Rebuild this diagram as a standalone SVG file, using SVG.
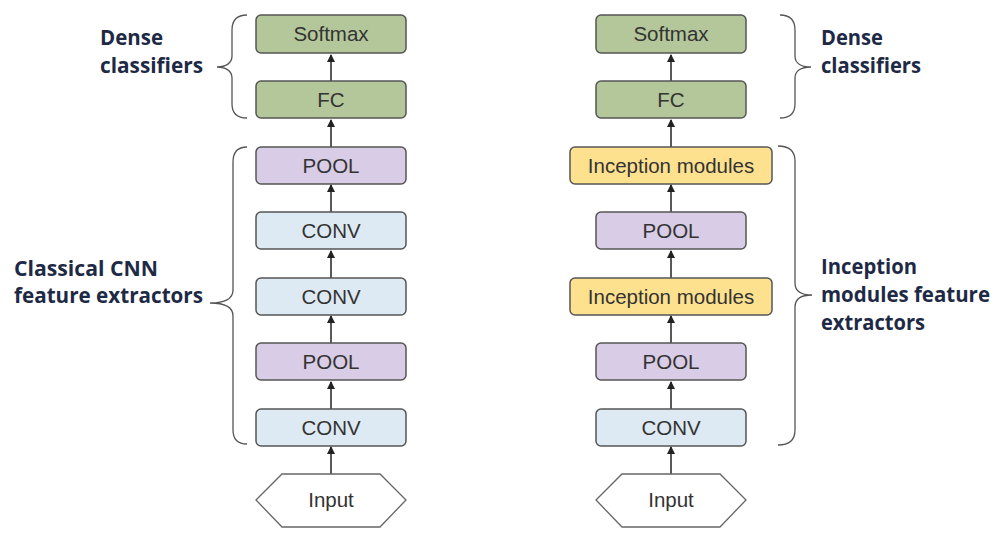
<svg xmlns="http://www.w3.org/2000/svg" width="1003" height="538" viewBox="0 0 1003 538">
<style>
.box{stroke:#555;stroke-width:1.5}
.g{fill:#b3c79a}.p{fill:#d8cce6}.b{fill:#deeaf3}.y{fill:#fde18f}
.hex{fill:#fff;stroke:#666;stroke-width:1.3}
.t{font-family:"Liberation Sans",Arial,sans-serif;font-size:20.5px;fill:#333;text-anchor:middle}
.lbl{font-family:"Open Sans","Noto Sans",sans-serif;font-weight:bold;font-size:21px;fill:#1e2a45}
.br{fill:none;stroke:#555;stroke-width:1.3}
.c{stroke:#222;stroke-width:1.5;fill:none}
</style>
<defs>
<marker id="ah" markerWidth="8" markerHeight="10" refX="7" refY="4" orient="auto" markerUnits="userSpaceOnUse" viewBox="0 0 8 8">
<path d="M0,0 L8,4 L0,8 z" fill="#222"/>
</marker>
</defs>
<rect width="1003" height="538" fill="#fff"/>
<g id="connectors">
<line class="c" x1="331" y1="81" x2="331" y2="55" marker-end="url(#ah)"/>
<line class="c" x1="331" y1="147" x2="331" y2="120" marker-end="url(#ah)"/>
<line class="c" x1="331" y1="212" x2="331" y2="185" marker-end="url(#ah)"/>
<line class="c" x1="331" y1="278" x2="331" y2="251" marker-end="url(#ah)"/>
<line class="c" x1="331" y1="343" x2="331" y2="316" marker-end="url(#ah)"/>
<line class="c" x1="331" y1="409" x2="331" y2="382" marker-end="url(#ah)"/>
<line class="c" x1="331" y1="474" x2="331" y2="447" marker-end="url(#ah)"/>
<line class="c" x1="671" y1="81" x2="671" y2="55" marker-end="url(#ah)"/>
<line class="c" x1="671" y1="147" x2="671" y2="120" marker-end="url(#ah)"/>
<line class="c" x1="671" y1="212" x2="671" y2="185" marker-end="url(#ah)"/>
<line class="c" x1="671" y1="278" x2="671" y2="251" marker-end="url(#ah)"/>
<line class="c" x1="671" y1="343" x2="671" y2="316" marker-end="url(#ah)"/>
<line class="c" x1="671" y1="409" x2="671" y2="382" marker-end="url(#ah)"/>
<line class="c" x1="671" y1="474" x2="671" y2="447" marker-end="url(#ah)"/>
</g>
<g id="left-softmax"><rect class="box g" x="256" y="15" width="150" height="38" rx="5"/><text class="t" x="331" y="41">Softmax</text></g>
<g id="left-fc"><rect class="box g" x="256" y="81" width="150" height="37" rx="5"/><text class="t" x="331" y="107">FC</text></g>
<g id="left-pool1"><rect class="box p" x="256" y="147" width="150" height="37" rx="5"/><text class="t" x="331" y="173">POOL</text></g>
<g id="left-conv1"><rect class="box b" x="256" y="212" width="150" height="37" rx="5"/><text class="t" x="331" y="238">CONV</text></g>
<g id="left-conv2"><rect class="box b" x="256" y="278" width="150" height="37" rx="5"/><text class="t" x="331" y="304">CONV</text></g>
<g id="left-pool2"><rect class="box p" x="256" y="343" width="150" height="37" rx="5"/><text class="t" x="331" y="369">POOL</text></g>
<g id="left-conv3"><rect class="box b" x="256" y="409" width="150" height="37" rx="5"/><text class="t" x="331" y="435">CONV</text></g>
<g id="left-input"><polygon class="hex" points="256,500 282,474 380,474 406,500 380,527 282,527"/><text class="t" x="331" y="507">Input</text></g>

<g id="right-softmax"><rect class="box g" x="596" y="15" width="150" height="38" rx="5"/><text class="t" x="671" y="41">Softmax</text></g>
<g id="right-fc"><rect class="box g" x="596" y="81" width="150" height="37" rx="5"/><text class="t" x="671" y="107">FC</text></g>
<g id="right-incep1"><rect class="box y" x="570" y="147" width="202" height="37" rx="5"/><text class="t" x="671" y="173">Inception modules</text></g>
<g id="right-pool1"><rect class="box p" x="596" y="212" width="150" height="37" rx="5"/><text class="t" x="671" y="238">POOL</text></g>
<g id="right-incep2"><rect class="box y" x="570" y="278" width="202" height="37" rx="5"/><text class="t" x="671" y="304">Inception modules</text></g>
<g id="right-pool2"><rect class="box p" x="596" y="343" width="150" height="37" rx="5"/><text class="t" x="671" y="369">POOL</text></g>
<g id="right-conv"><rect class="box b" x="596" y="409" width="150" height="37" rx="5"/><text class="t" x="671" y="435">CONV</text></g>
<g id="right-input"><polygon class="hex" points="596,500 622,474 720,474 746,500 720,527 622,527"/><text class="t" x="671" y="507">Input</text></g>

<g id="brace-left-dense">
<path class="br" d="M247,15 C237,15 232,20 232,30 L232,56 C232,63 226,67 217,67 C226,67 232,71 232,78 L232,104 C232,113 237,118 247,118"/>
<text class="lbl" x="100" y="45" textLength="63" lengthAdjust="spacingAndGlyphs">Dense</text>
<text class="lbl" x="100" y="73" textLength="103" lengthAdjust="spacingAndGlyphs">classifiers</text>
</g>
<g id="brace-left-cnn">
<path class="br" d="M247,147 C237,147 233,152 233,162 L233,290 C233,298 227,303 210,303 C227,303 233,308 233,316 L233,430 C233,439 237,444 247,444"/>
<text class="lbl" x="14" y="276" textLength="144" lengthAdjust="spacingAndGlyphs">Classical CNN</text>
<text class="lbl" x="14" y="303" textLength="189" lengthAdjust="spacingAndGlyphs">feature extractors</text>
</g>
<g id="brace-right-dense">
<path class="br" d="M780,15 C790,15 795,20 795,30 L795,56 C795,63 801,67 811,67 C801,67 795,71 795,78 L795,104 C795,113 790,118 780,118"/>
<text class="lbl" x="821" y="45" textLength="62" lengthAdjust="spacingAndGlyphs">Dense</text>
<text class="lbl" x="821" y="73" textLength="100" lengthAdjust="spacingAndGlyphs">classifiers</text>
</g>
<g id="brace-right-inception">
<path class="br" d="M778,146 C789,146 795,151 795,161 L795,283 C795,291 801,295 812,295 C801,295 795,299 795,307 L795,430 C795,440 789,445 778,445"/>
<text class="lbl" x="821" y="274" textLength="96" lengthAdjust="spacingAndGlyphs">Inception</text>
<text class="lbl" x="821" y="302" textLength="169" lengthAdjust="spacingAndGlyphs">modules feature</text>
<text class="lbl" x="821" y="330" textLength="104" lengthAdjust="spacingAndGlyphs">extractors</text>
</g>
</svg>
